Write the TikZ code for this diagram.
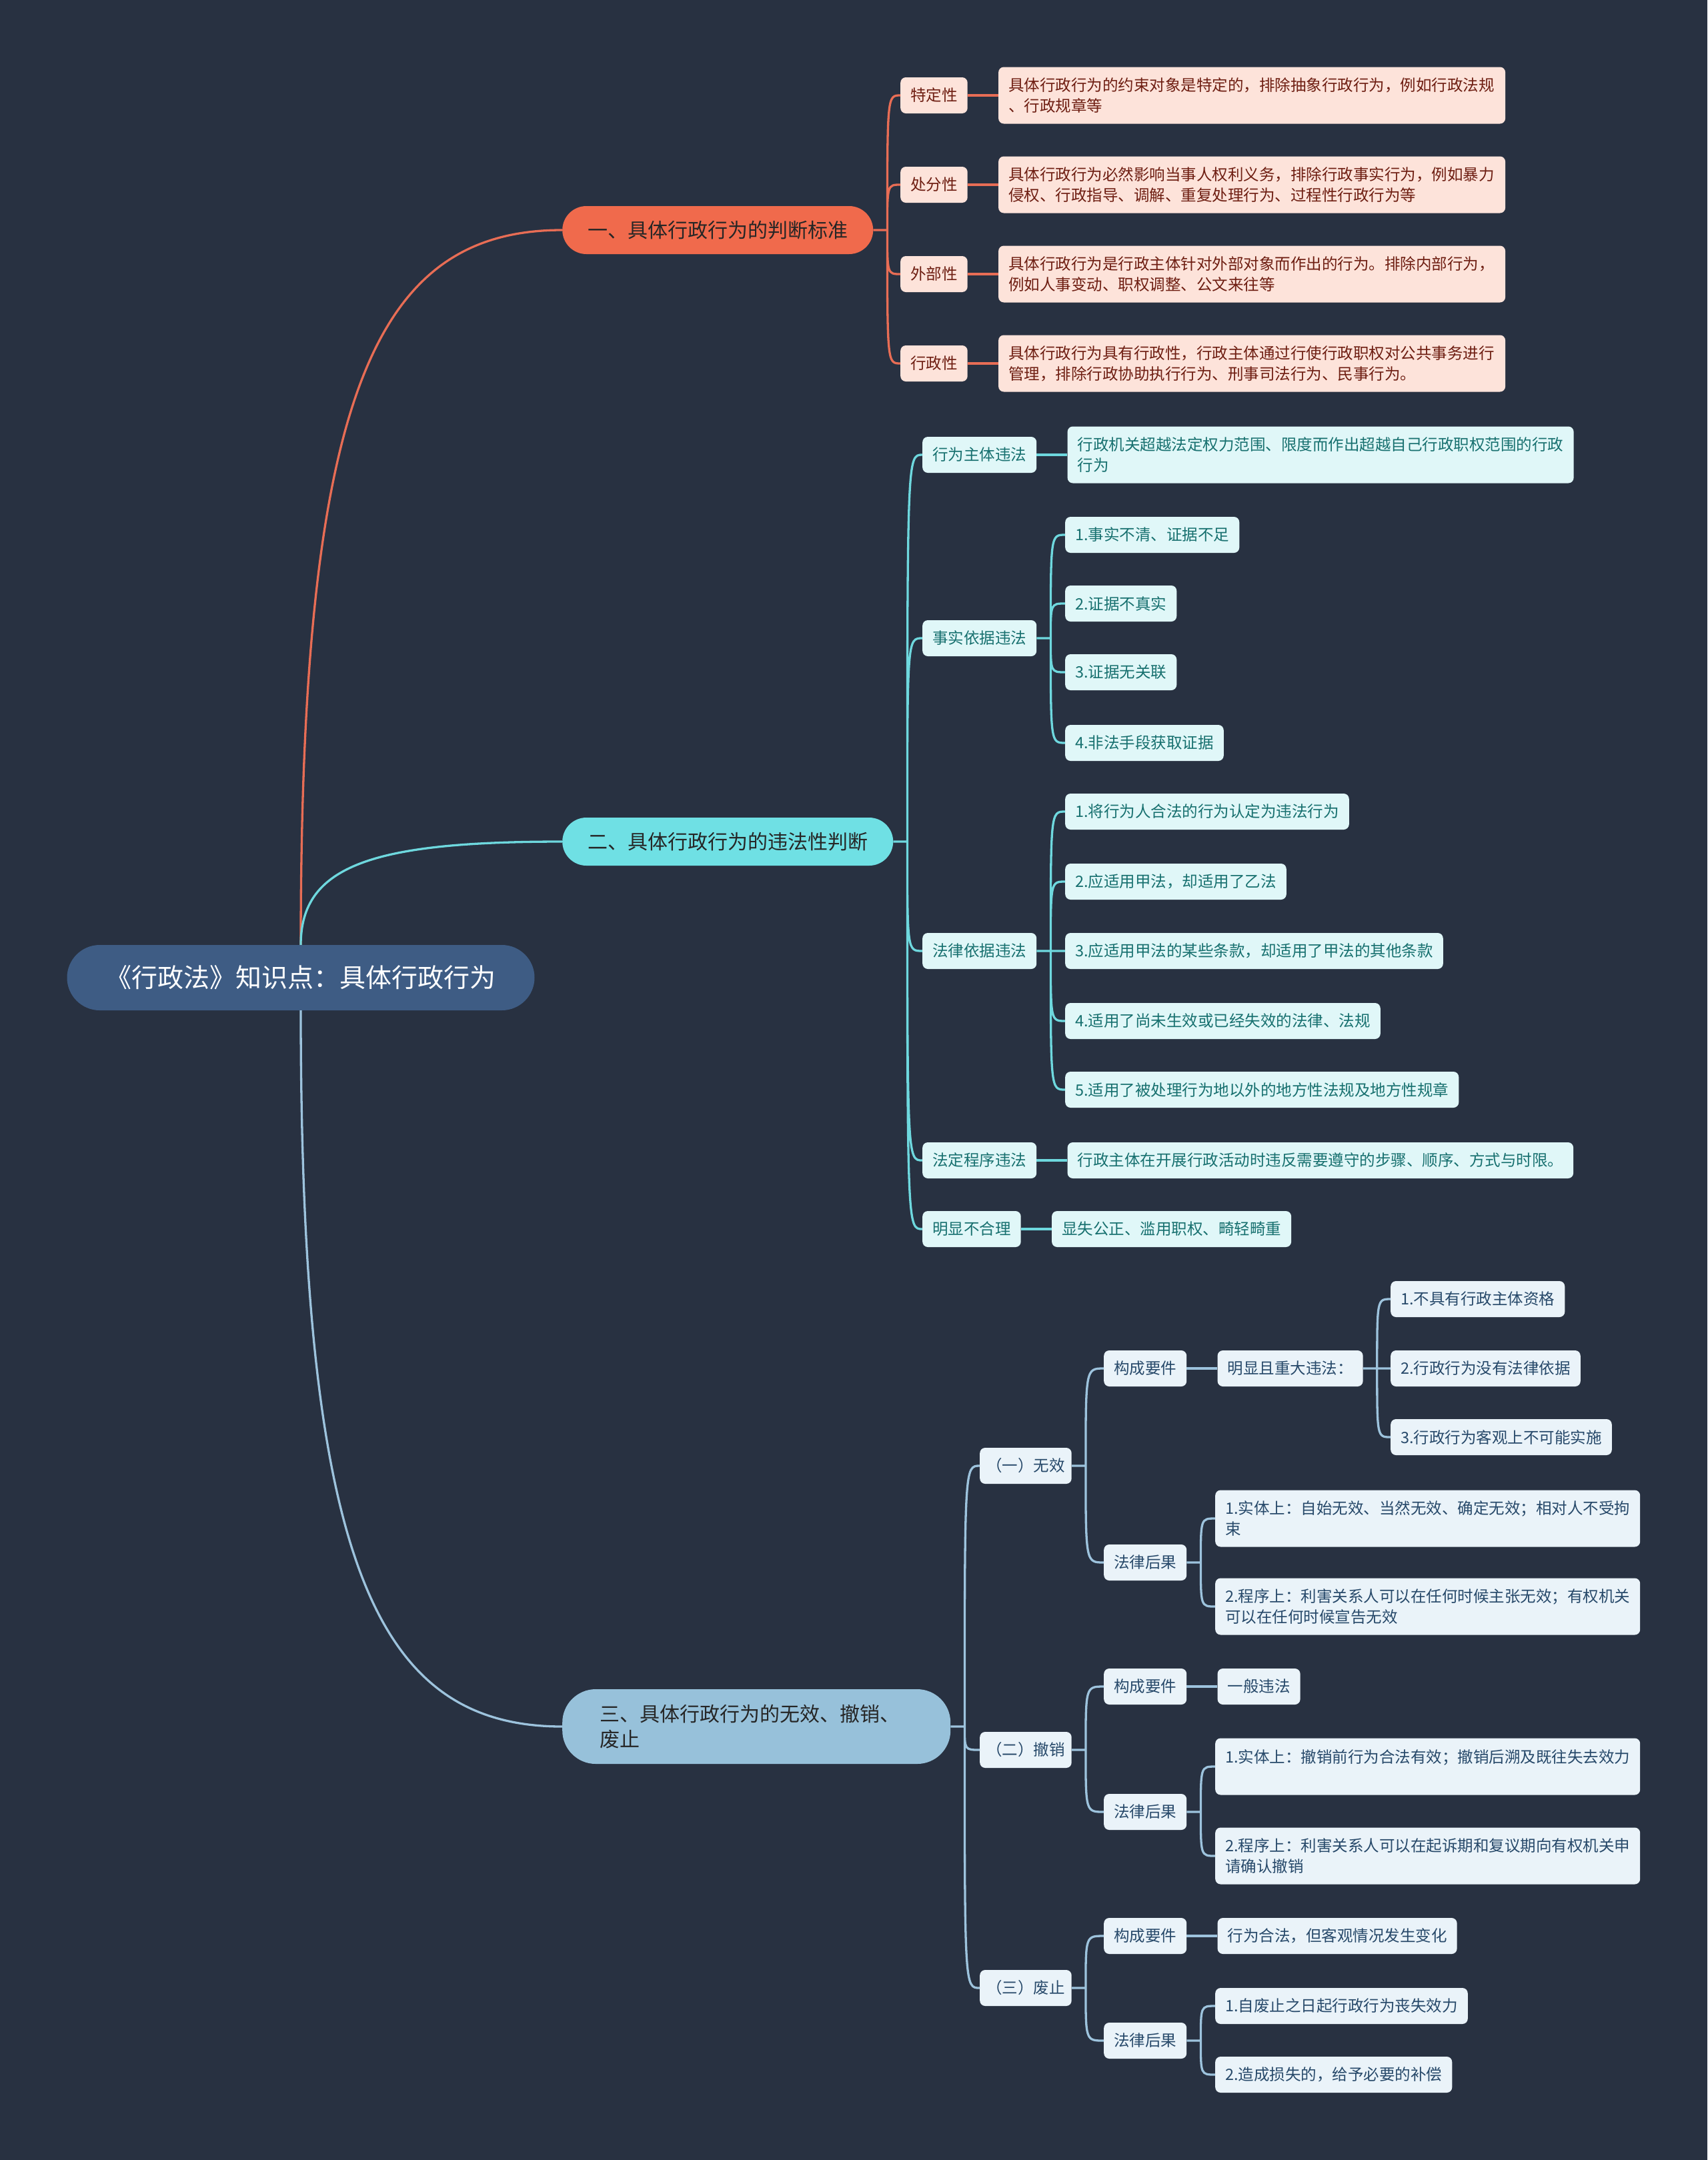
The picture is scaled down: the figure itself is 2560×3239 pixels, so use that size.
\documentclass[tikz,border=0pt]{standalone}
\usepackage{fontspec}
\setmainfont{Noto Sans CJK SC}
\usepackage{xcolor}
\usepackage{tikz}
\usetikzlibrary{positioning,calc}

\definecolor{bgcol}{HTML}{283141}
\definecolor{rootfill}{HTML}{3E5C84}
\definecolor{topictext}{HTML}{262626}
\definecolor{redmain}{HTML}{F06A4C}
\definecolor{redfill}{HTML}{FDE3DA}
\definecolor{redtext}{HTML}{6E1E12}
\definecolor{redline}{HTML}{E86D55}
\definecolor{cyanmain}{HTML}{6FE0E4}
\definecolor{cyanfill}{HTML}{E0F7F8}
\definecolor{cyantext}{HTML}{17706F}
\definecolor{cyanline}{HTML}{6ED8DE}
\definecolor{bluemain}{HTML}{97C1DA}
\definecolor{bluefill}{HTML}{EAF3F9}
\definecolor{bluetext}{HTML}{27496A}
\definecolor{blueline}{HTML}{9DC3DD}

\newcommand{\leaffont}{\fontsize{23.5pt}{31pt}\selectfont}
\newcommand{\topicfont}{\fontsize{30pt}{38pt}\selectfont}
\newcommand{\rootfont}{\fontsize{39pt}{46pt}\selectfont}

\begin{document}
\begin{tikzpicture}[
        x=1pt, y=-1pt,
        node distance=46pt,
        rootbox/.style={rectangle, rounded corners=49pt, fill=rootfill, text=white, font=\rootfont, inner xsep=58pt, minimum height=98pt},
        topic/.style={rectangle, rounded corners=36pt, font=\topicfont, text=topictext, inner xsep=38pt, minimum height=72pt, anchor=west},
        leaf/.style={rectangle, rounded corners=8pt, font=\leaffont, inner xsep=15pt, inner ysep=0pt, minimum height=54pt, align=left, anchor=west},
        tall/.style={minimum height=85pt},
        redleaf/.style={leaf, fill=redfill, text=redtext},
        cyanleaf/.style={leaf, fill=cyanfill, text=cyantext},
        blueleaf/.style={leaf, fill=bluefill, text=bluetext},
        redlink/.style={line width=3.3pt, draw=redline},
        cyanlink/.style={line width=3.3pt, draw=cyanline},
        bluelink/.style={line width=3.3pt, draw=blueline},
        fork/.style={to path={-- ++(21,0) coordinate (fk) .. controls (fk |- \tikztotarget) .. (\tikztotarget)}}
    ]
        \path[use as bounding box, fill=bgcol] (0,0) rectangle (2560,3239);

        % centre
        \node[rootbox] (root) at (451,1466) {《行政法》知识点：具体行政行为};

        % 一
        \node[topic, fill=redmain] (b1) at (843,345) {一、具体行政行为的判断标准};
        \node[redleaf] (r1) at (1350,143) {特定性};
        \node[redleaf] (r2) at (1350,277) {处分性};
        \node[redleaf] (r3) at (1350,411) {外部性};
        \node[redleaf] (r4) at (1350,545) {行政性};
        \node[redleaf, tall, text width=730pt, right=of r1] (r1d) {具体行政行为的约束对象是特定的，排除抽象行政行为，例如行政法规\\、行政规章等};
        \node[redleaf, tall, text width=730pt, right=of r2] (r2d) {具体行政行为必然影响当事人权利义务，排除行政事实行为，例如暴力\\侵权、行政指导、调解、重复处理行为、过程性行政行为等};
        \node[redleaf, tall, text width=730pt, right=of r3] (r3d) {具体行政行为是行政主体针对外部对象而作出的行为。排除内部行为，\\例如人事变动、职权调整、公文来往等};
        \node[redleaf, tall, text width=730pt, right=of r4] (r4d) {具体行政行为具有行政性，行政主体通过行使行政职权对公共事务进行\\管理，排除行政协助执行行为、刑事司法行为、民事行为。};

        % 二
        \node[topic, fill=cyanmain] (b2) at (843,1262) {二、具体行政行为的违法性判断};
        \node[cyanleaf] (c1) at (1383,682) {行为主体违法};
        \node[cyanleaf] (c2) at (1383,957) {事实依据违法};
        \node[cyanleaf] (c3) at (1383,1426) {法律依据违法};
        \node[cyanleaf] (c4) at (1383,1740) {法定程序违法};
        \node[cyanleaf] (c5) at (1383,1843) {明显不合理};
        \node[cyanleaf, tall, text width=729pt, right=of c1] (c1d) {行政机关超越法定权力范围、限度而作出超越自己行政职权范围的行政\\行为};
        \node[cyanleaf] (c2a) at (1597,802) {1.事实不清、证据不足};
        \node[cyanleaf] (c2b) at (1597,905) {2.证据不真实};
        \node[cyanleaf] (c2c) at (1597,1008) {3.证据无关联};
        \node[cyanleaf] (c2d) at (1597,1114) {4.非法手段获取证据};
        \node[cyanleaf] (c3a) at (1597,1217) {1.将行为人合法的行为认定为违法行为};
        \node[cyanleaf] (c3b) at (1597,1322) {2.应适用甲法，却适用了乙法};
        \node[cyanleaf] (c3c) at (1597,1426) {3.应适用甲法的某些条款，却适用了甲法的其他条款};
        \node[cyanleaf] (c3d) at (1597,1531) {4.适用了尚未生效或已经失效的法律、法规};
        \node[cyanleaf] (c3e) at (1597,1634) {5.适用了被处理行为地以外的地方性法规及地方性规章};
        \node[cyanleaf, right=of c4] (c4d) {行政主体在开展行政活动时违反需要遵守的步骤、顺序、方式与时限。};
        \node[cyanleaf, right=of c5] (c5d) {显失公正、滥用职权、畸轻畸重};

        % 三
        \node[topic, fill=bluemain, rounded corners=50pt, minimum height=112pt, text width=470pt, inner xsep=56pt, align=left] (b3) at (843,2589) {三、具体行政行为的无效、撤销、\\废止};
        \node[blueleaf, inner xsep=10pt] (n1) at (1469,2198) {（一）无效};
        \node[blueleaf, inner xsep=10pt] (n2) at (1469,2624) {（二）撤销};
        \node[blueleaf, inner xsep=10pt] (n3) at (1469,2981) {（三）废止};
        \node[blueleaf] (n1a) at (1655,2052) {构成要件};
        \node[blueleaf] (n1b) at (1655,2343) {法律后果};
        \node[blueleaf] (n2a) at (1655,2529) {构成要件};
        \node[blueleaf] (n2b) at (1655,2717) {法律后果};
        \node[blueleaf] (n3a) at (1655,2903) {构成要件};
        \node[blueleaf] (n3b) at (1655,3060) {法律后果};
        \node[blueleaf, right=of n1a] (n1a1) {明显且重大违法：};
        \node[blueleaf] (v1) at (2085,1948) {1.不具有行政主体资格};
        \node[blueleaf] (v2) at (2085,2052) {2.行政行为没有法律依据};
        \node[blueleaf] (v3) at (2085,2155) {3.行政行为客观上不可能实施};
        \node[blueleaf, tall, text width=607pt] (n1b1) at (1822,2277) {1.实体上：自始无效、当然无效、确定无效；相对人不受拘\\束};
        \node[blueleaf, tall, text width=607pt] (n1b2) at (1822,2409) {2.程序上：利害关系人可以在任何时候主张无效；有权机关\\可以在任何时候宣告无效};
        \node[blueleaf, right=of n2a] (n2a1) {一般违法};
        \node[blueleaf, tall, text width=607pt] (n2b1) at (1822,2649) {1.实体上：撤销前行为合法有效；撤销后溯及既往失去效力\\\mbox{}};
        \node[blueleaf, tall, text width=607pt] (n2b2) at (1822,2783) {2.程序上：利害关系人可以在起诉期和复议期向有权机关申\\请确认撤销};
        \node[blueleaf, right=of n3a] (n3a1) {行为合法，但客观情况发生变化};
        \node[blueleaf] (n3b1) at (1822,3008) {1.自废止之日起行政行为丧失效力};
        \node[blueleaf] (n3b2) at (1822,3111) {2.造成损失的，给予必要的补偿};

        % connectors
        \draw[redlink] (root.north) .. controls +(0,-820) and +(-283,0) .. (b1.west);
        \draw[cyanlink] (root.north) .. controls +(0,-120) and +(-282,0) .. (b2.west);
        \draw[bluelink] (root.south) .. controls +(0,820) and +(-283,0) .. (b3.west);

        \draw[redlink] (b1.east) to[fork] (r1.west) (b1.east) to[fork] (r2.west) (b1.east) to[fork] (r3.west) (b1.east) to[fork] (r4.west);
        \draw[redlink] (r1) -- (r1d) (r2) -- (r2d) (r3) -- (r3d) (r4) -- (r4d);

        \draw[cyanlink] (b2.east) to[fork] (c1.west) (b2.east) to[fork] (c2.west) (b2.east) to[fork] (c3.west) (b2.east) to[fork] (c4.west) (b2.east) to[fork] (c5.west);
        \draw[cyanlink] (c2.east) to[fork] (c2a.west) (c2.east) to[fork] (c2b.west) (c2.east) to[fork] (c2c.west) (c2.east) to[fork] (c2d.west);
        \draw[cyanlink] (c3.east) to[fork] (c3a.west) (c3.east) to[fork] (c3b.west) (c3.east) to[fork] (c3c.west) (c3.east) to[fork] (c3d.west) (c3.east) to[fork] (c3e.west);
        \draw[cyanlink] (c1) -- (c1d) (c4) -- (c4d) (c5) -- (c5d);

        \draw[bluelink] (b3.east) to[fork] (n1.west) (b3.east) to[fork] (n2.west) (b3.east) to[fork] (n3.west);
        \draw[bluelink] (n1.east) to[fork] (n1a.west) (n1.east) to[fork] (n1b.west);
        \draw[bluelink] (n2.east) to[fork] (n2a.west) (n2.east) to[fork] (n2b.west);
        \draw[bluelink] (n3.east) to[fork] (n3a.west) (n3.east) to[fork] (n3b.west);
        \draw[bluelink] (n1a) -- (n1a1) (n2a) -- (n2a1) (n3a) -- (n3a1);
        \draw[bluelink] (n1a1.east) to[fork] (v1.west) (n1a1.east) to[fork] (v2.west) (n1a1.east) to[fork] (v3.west);
        \draw[bluelink] (n1b.east) to[fork] (n1b1.west) (n1b.east) to[fork] (n1b2.west);
        \draw[bluelink] (n2b.east) to[fork] (n2b1.west) (n2b.east) to[fork] (n2b2.west);
        \draw[bluelink] (n3b.east) to[fork] (n3b1.west) (n3b.east) to[fork] (n3b2.west);
    \end{tikzpicture}
\end{document}
